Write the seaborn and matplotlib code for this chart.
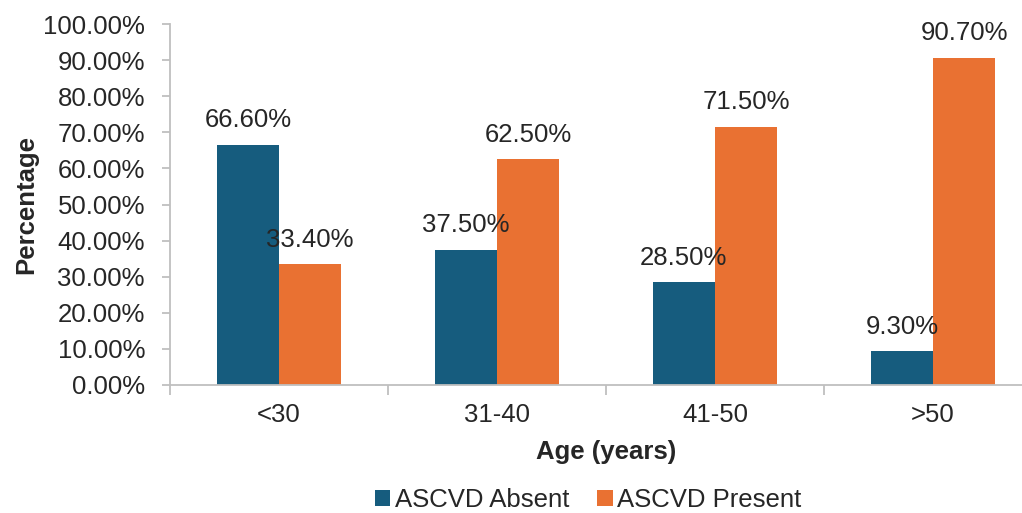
import matplotlib
matplotlib.use("Agg")
import matplotlib.pyplot as plt
import seaborn as sns
import pandas as pd
from matplotlib.ticker import FixedLocator, PercentFormatter

# Share of patients with / without ASCVD in each age band (%)
age_groups = ["<30", "31-40", "41-50", ">50"]
series_names = ["ASCVD Absent", "ASCVD Present"]
ascvd_absent = [66.6, 37.5, 28.5, 9.3]
ascvd_present = [33.4, 62.5, 71.5, 90.7]
y_ticks = [0, 10, 20, 30, 40, 50, 60, 70, 80, 90, 100]

BLUE = "#165C7E"
ORANGE = "#E97132"
TEXT = "#262626"
AXIS_GREY = "#BFBFBF"
FS = 18.5

df = pd.DataFrame({
    "Age": age_groups * 2,
    "Status": [series_names[0]] * len(age_groups) + [series_names[1]] * len(age_groups),
    "Percentage": ascvd_absent + ascvd_present,
})

sns.set_theme(style="white")
plt.rcParams["font.family"] = ["Liberation Sans", "DejaVu Sans"]

W, H = 1022, 513
fig = plt.figure(figsize=(W / 100, H / 100), dpi=100)
ax = fig.add_axes([170 / W, 1 - 385 / H, 872 / W, 361 / H])

sns.barplot(data=df, x="Age", y="Percentage", hue="Status",
            hue_order=series_names, order=age_groups,
            palette=[BLUE, ORANGE], saturation=1, width=0.57, gap=0,
            linewidth=0, ax=ax)

for container in ax.containers:
    ax.bar_label(container, fmt="%.2f%%", padding=9, fontsize=FS, color=TEXT)

ax.set_ylim(0, 100)
ax.set_xlim(-0.5, len(age_groups) - 0.5)
ax.yaxis.set_major_locator(FixedLocator(y_ticks))
ax.yaxis.set_major_formatter(PercentFormatter(xmax=100, decimals=2))
ax.xaxis.set_minor_locator(FixedLocator([i - 0.5 for i in range(len(age_groups) + 1)]))

for side in ("top", "right"):
    ax.spines[side].set_visible(False)
for side in ("left", "bottom"):
    ax.spines[side].set_color(AXIS_GREY)
    ax.spines[side].set_linewidth(1.3)

ax.tick_params(axis="y", left=True, length=6, width=1.3, color=AXIS_GREY,
               pad=12, labelsize=FS, labelcolor=TEXT)
ax.tick_params(axis="x", which="major", bottom=False, length=0, pad=13,
               labelsize=FS, labelcolor=TEXT)
ax.tick_params(axis="x", which="minor", bottom=True, length=7, width=1.3,
               color=AXIS_GREY)

ax.set_xlabel("Age (years)", fontsize=FS, fontweight="bold", color=TEXT)
ax.xaxis.label.set_va("center")
ax.xaxis.set_label_coords(0.5, (385 - 452) / 361)
ax.set_ylabel("Percentage", fontsize=FS, fontweight="bold", color=TEXT)
ax.yaxis.label.set_va("center")
ax.yaxis.set_label_coords((26 - 170) / 872, 0.5)

leg = ax.get_legend()
handles = leg.legend_handles
labels = [t.get_text() for t in leg.texts]
leg.remove()
fig.legend(handles, labels, loc="center", ncol=2, frameon=False,
           bbox_to_anchor=(588 / W, 1 - 500 / H), fontsize=FS,
           handlelength=0.62, handleheight=0.62, handletextpad=0.16,
           columnspacing=1.1, borderpad=0, labelcolor=TEXT)

fig.savefig("out.png", dpi=100)
